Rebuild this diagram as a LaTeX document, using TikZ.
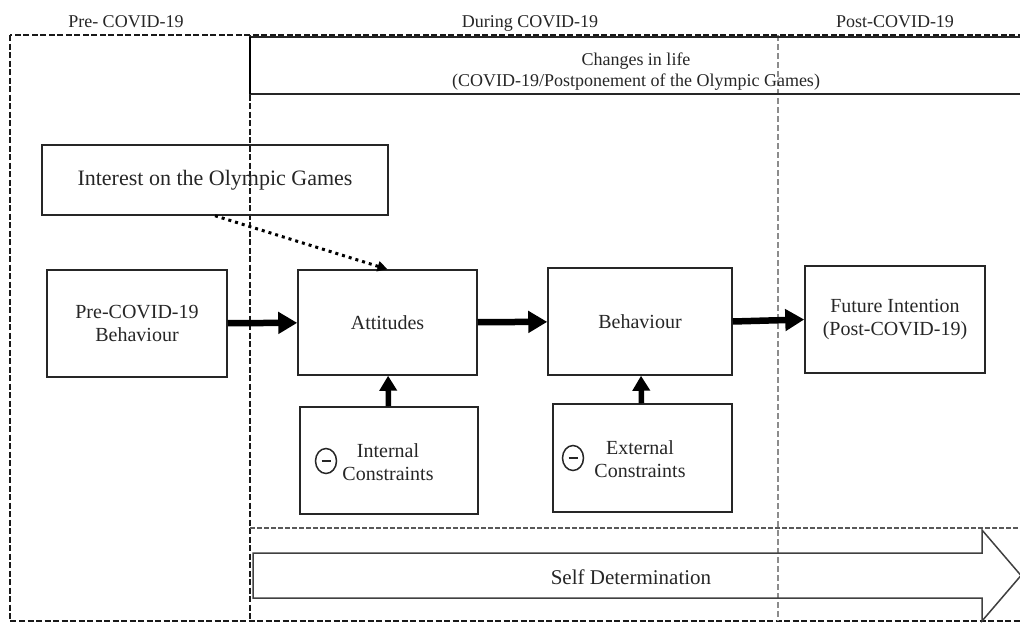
\documentclass[tikz,border=0pt]{standalone}
\usepackage{fontspec}
\setmainfont{Liberation Serif}
\usetikzlibrary{arrows.meta,shapes.geometric}
\begin{document}
\begin{tikzpicture}[x=1pt,y=-1pt,
  every node/.style={text=black!85},
  box/.style={draw=black!85,line width=1.5pt,align=center,inner sep=0pt,
    font=\fontsize{20}{23}\selectfont},
  phase/.style={anchor=base,inner sep=0pt,font=\fontsize{18}{21}\selectfont},
  frame/.style={draw=black!90,line width=2.2pt,dash pattern=on 6pt off 2.5pt},
  midline/.style={draw=black!45,line width=1.6pt,dash pattern=on 6pt off 3pt},
  lowline/.style={draw=black!65,line width=1.8pt,dash pattern=on 5pt off 2pt},
  flow/.style={draw=black,line width=6.5pt,-{Triangle[length=19pt,width=21pt]}},
  push/.style={draw=black,line width=5.5pt,-{Triangle[length=15pt,width=17pt]}},
  hint/.style={draw=black,line width=3pt,dash pattern=on 3pt off 4pt,
    -{Triangle[length=10pt,width=10pt]}},
  minus/.style={draw=black!85,ellipse,line width=1.5pt,minimum width=21pt,
    minimum height=25pt,inner sep=0pt,
    path picture={\draw[black!85,line width=2pt]
      ([xshift=-4.5pt]path picture bounding box.center) --
      ([xshift=4.5pt]path picture bounding box.center);}}]
\useasboundingbox (0,0) rectangle (1020,624);
\clip (0,0) rectangle (1020,624);

% phase frames
\draw[frame] (10,35) rectangle (1040,621);
\draw[frame] (250,35) -- (250,621);
\draw[midline] (778,35) -- (778,621);
\draw[lowline] (250,528) -- (1040,528);

% band across the top: changes in life
\draw[draw=black!85,line width=1.5pt] (1040,37) -- (250,37) -- (250,94) -- (1040,94);
\draw[draw=black,line width=2.5pt] (250,37) -- (250,94);
\node[align=center,inner sep=0pt,font=\fontsize{18}{21}\selectfont] (changes) at (636,71.5)
  {Changes in life\\(COVID-19/Postponement of the Olympic Games)};

% phase headings
\node[phase] (pre) at (126,27) {Pre- COVID-19};
\node[phase] (during) at (530,27) {During COVID-19};
\node[phase] (post) at (895,27) {Post-COVID-19};

% boxes
\node[box,minimum width=346pt,minimum height=70pt,font=\fontsize{22}{26}\selectfont]
  (interest) at (215,180) {Interest on the Olympic Games};
\node[box,minimum width=180pt,minimum height=107pt] (prebeh) at (137,323.5) {Pre-COVID-19\\Behaviour};
\node[box,minimum width=179pt,minimum height=105pt] (att) at (387.5,322.5) {Attitudes};
\node[box,minimum width=184pt,minimum height=107pt] (beh) at (640,321.5) {Behaviour};
\node[box,minimum width=180pt,minimum height=107pt] (fut) at (895,319.5) {Future Intention\\(Post-COVID-19)};
\node[box,minimum width=178pt,minimum height=107pt] (intc) at (389,460.5) {};
\node[box,minimum width=179pt,minimum height=108pt] (extc) at (642.5,458) {};
\node[box,draw=none] (intt) at (388,462) {Internal\\Constraints};
\node[box,draw=none] (extt) at (640,459) {External\\Constraints};
\node[minus] (intm) at (326,461) {};
\node[minus] (extm) at (573,458) {};

% self determination band
\draw[draw=black!75,line width=1.5pt] (253,553) -- (982,553) -- (982,530) -- (1021,575.5)
  -- (982,621) -- (982,598) -- (253,598) -- cycle;
\node[inner sep=0pt,font=\fontsize{21}{24}\selectfont] (sd) at (631,577) {Self Determination};

% connectors
\draw[flow] (prebeh) -- (att);
\draw[flow] (att) -- (beh);
\draw[flow] (beh.east) -- (fut.west);
\draw[push] (intc) -- (att);
\draw[push] (extc) -- (beh);
\draw[hint] (interest.south) -- (att.north);
\end{tikzpicture}
\end{document}
